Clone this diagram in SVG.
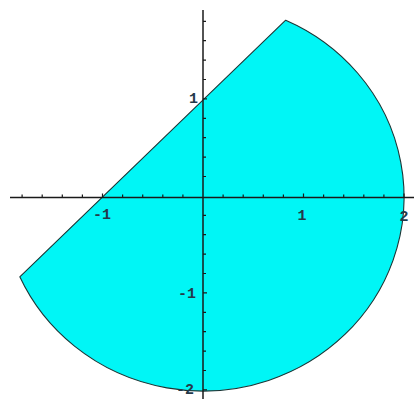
<svg xmlns="http://www.w3.org/2000/svg" width="414" height="399" viewBox="0 0 414 399">
  <style>
    .axis { stroke: #1a1a1a; stroke-width: 1.5; fill: none; }
    .tick { stroke: #1a1a1a; stroke-width: 1.2; }
    .lbl { font-family: "Liberation Mono", "DejaVu Sans Mono", monospace; font-weight: bold; font-size: 15px; fill: #24394a; }
  </style>
  <rect width="414" height="399" fill="#ffffff"/>
  <g id="region">
    <path d="M 285.7 20.2 A 201 194 0 1 1 19.8 276.8 Z" fill="#00f6f6" stroke="#1b3535" stroke-width="1.1" stroke-linejoin="round"/>
  </g>
  <g id="axes">
    <line class="axis" x1="10" y1="197.5" x2="414" y2="197.5"/>
    <line class="axis" x1="203" y1="10" x2="203" y2="399"/>
  </g>
  <g id="xticks">
    <path class="tick" d="M22.1 197.5v-3 M42.2 197.5v-3 M62.3 197.5v-3 M82.4 197.5v-3 M102.5 197.5v-4 M122.6 197.5v-3 M142.7 197.5v-3 M162.8 197.5v-3 M182.9 197.5v-3 M223.1 197.5v-3 M243.2 197.5v-3 M263.3 197.5v-3 M283.4 197.5v-3 M303.5 197.5v-4 M323.6 197.5v-3 M343.7 197.5v-3 M363.8 197.5v-3 M383.9 197.5v-3 M404 197.5v-4"/>
  </g>
  <g id="yticks">
    <path class="tick" d="M203 21.3h3 M203 40.7h3 M203 60.1h3 M203 79.5h3 M203 98.9h4 M203 118.3h3 M203 137.7h3 M203 157.1h3 M203 176.5h3 M203 215.3h3 M203 234.7h3 M203 254.1h3 M203 273.5h3 M203 292.9h4 M203 312.3h3 M203 331.7h3 M203 351.1h3 M203 370.5h3 M203 389.9h4"/>
  </g>
  <g id="labels">
    <text class="lbl" x="102" y="219" text-anchor="middle">-1</text>
    <text class="lbl" x="302" y="220" text-anchor="middle">1</text>
    <text class="lbl" x="404" y="221" text-anchor="middle">2</text>
    <text class="lbl" x="198" y="103" text-anchor="end">1</text>
    <text class="lbl" x="196" y="298" text-anchor="end">-1</text>
    <text class="lbl" x="194" y="394" text-anchor="end">-2</text>
  </g>
</svg>
